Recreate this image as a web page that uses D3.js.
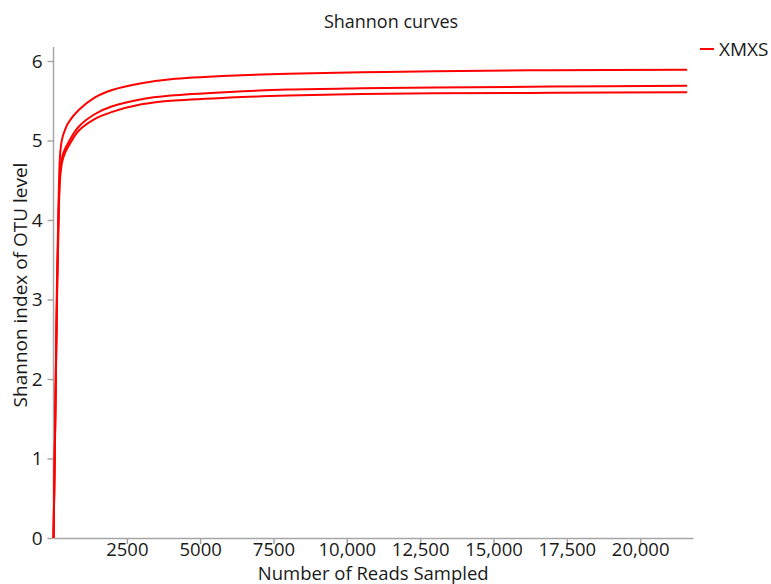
<!DOCTYPE html>
<html>
<head>
<meta charset="utf-8">
<script src="https://cdn.jsdelivr.net/npm/d3@7"></script>
<style>
  body { margin: 0; background: #fff; }
  svg { display: block; }
  svg text { font-family: "Open Sans", "Noto Sans", sans-serif; }
</style>
</head>
<body>
<svg id="chart" width="771" height="584"></svg>
<script>
const title = "Shannon curves";
const xTitle = "Number of Reads Sampled";
const yTitle = "Shannon index of OTU level";
const seriesName = "XMXS";
const xTicks = [2500, 5000, 7500, 10000, 12500, 15000, 17500, 20000];
const yTicks = [0, 1, 2, 3, 4, 5, 6];

const reads = [1, 60, 120, 180, 230, 300, 400, 500, 850, 1400, 2000, 3000, 4000, 6000, 8000, 10500, 13000, 17000, 21600];
const sample1 = [0, 1.55, 3.25, 4.35, 4.85, 5.03, 5.14, 5.22, 5.38, 5.54, 5.635, 5.72, 5.77, 5.815, 5.84, 5.857, 5.87, 5.885, 5.89];
const sample2 = [0, 1.5, 3.1, 4.2, 4.62, 4.8, 4.9, 4.97, 5.17, 5.33, 5.43, 5.52, 5.565, 5.61, 5.64, 5.656, 5.666, 5.678, 5.69];
const sample3 = [0, 1.45, 3.0, 4.1, 4.55, 4.74, 4.85, 4.92, 5.12, 5.27, 5.36, 5.455, 5.50, 5.54, 5.565, 5.585, 5.593, 5.60, 5.606];
const samples = [sample1, sample2, sample3];

const svg = d3.select("#chart");
const m = { left: 53.5, right: 693, top: 47, bottom: 538 };

const x = d3.scaleLinear().domain([0, 21800]).range([m.left, m.right]);
const y = d3.scaleLinear().domain([0, 6]).range([m.bottom, 61]);

const axisColor = "#a6a6a6";
const textColor = "#1a1a1a";
const fontFam = "Open Sans, Noto Sans, sans-serif";

// X axis
const xAxis = svg.append("g").attr("transform", `translate(0,${m.bottom})`)
  .call(d3.axisBottom(x).tickValues(xTicks).tickSize(6).tickSizeOuter(0)
    .tickFormat(d => d >= 10000 ? d3.format(",")(d) : String(d)));
xAxis.attr("font-family", fontFam).attr("font-size", 18.5);
xAxis.select(".domain").attr("stroke", axisColor).attr("stroke-width", 1.5);
xAxis.selectAll(".tick line").attr("stroke", axisColor).attr("stroke-width", 1.5);
xAxis.selectAll(".tick text").attr("fill", textColor).attr("y", 5);

// Y axis
const yAxis = svg.append("g").attr("transform", `translate(${m.left},0)`)
  .call(d3.axisLeft(y).tickValues(yTicks).tickSize(6).tickSizeOuter(0).tickFormat(d3.format("d")));
yAxis.attr("font-family", fontFam).attr("font-size", 19);
yAxis.select(".domain").attr("d", `M0,${m.top}V${m.bottom}`).attr("stroke", axisColor).attr("stroke-width", 1.5);
yAxis.selectAll(".tick line").attr("stroke", axisColor).attr("stroke-width", 1.5);
yAxis.selectAll(".tick text").attr("fill", textColor).attr("x", -11);

// Lines
const line = d3.line()
  .x((d, i) => x(reads[i]))
  .y(d => y(d))
  .curve(d3.curveCatmullRom.alpha(0.5));

svg.append("g").selectAll("path.series")
  .data(samples)
  .join("path")
  .attr("class", "series")
  .attr("d", line)
  .attr("fill", "none")
  .attr("stroke", "#ff0000")
  .attr("stroke-width", 2);

// Title
svg.append("text").attr("x", 391).attr("y", 28).attr("text-anchor", "middle")
  .attr("font-size", 18).attr("fill", textColor).text(title);

// Axis titles
svg.append("text").attr("x", (m.left + m.right) / 2).attr("y", 580).attr("text-anchor", "middle")
  .attr("font-size", 18.5).attr("fill", textColor).text(xTitle);
svg.append("text").attr("transform", `translate(27,285) rotate(-90)`).attr("text-anchor", "middle")
  .attr("font-size", 19).attr("fill", textColor).text(yTitle);

// Legend
svg.append("line").attr("x1", 700).attr("x2", 714).attr("y1", 49).attr("y2", 49)
  .attr("stroke", "#ff0000").attr("stroke-width", 2);
svg.append("text").attr("x", 719).attr("y", 56).attr("font-size", 19).attr("fill", textColor).text(seriesName);
</script>
</body>
</html>
